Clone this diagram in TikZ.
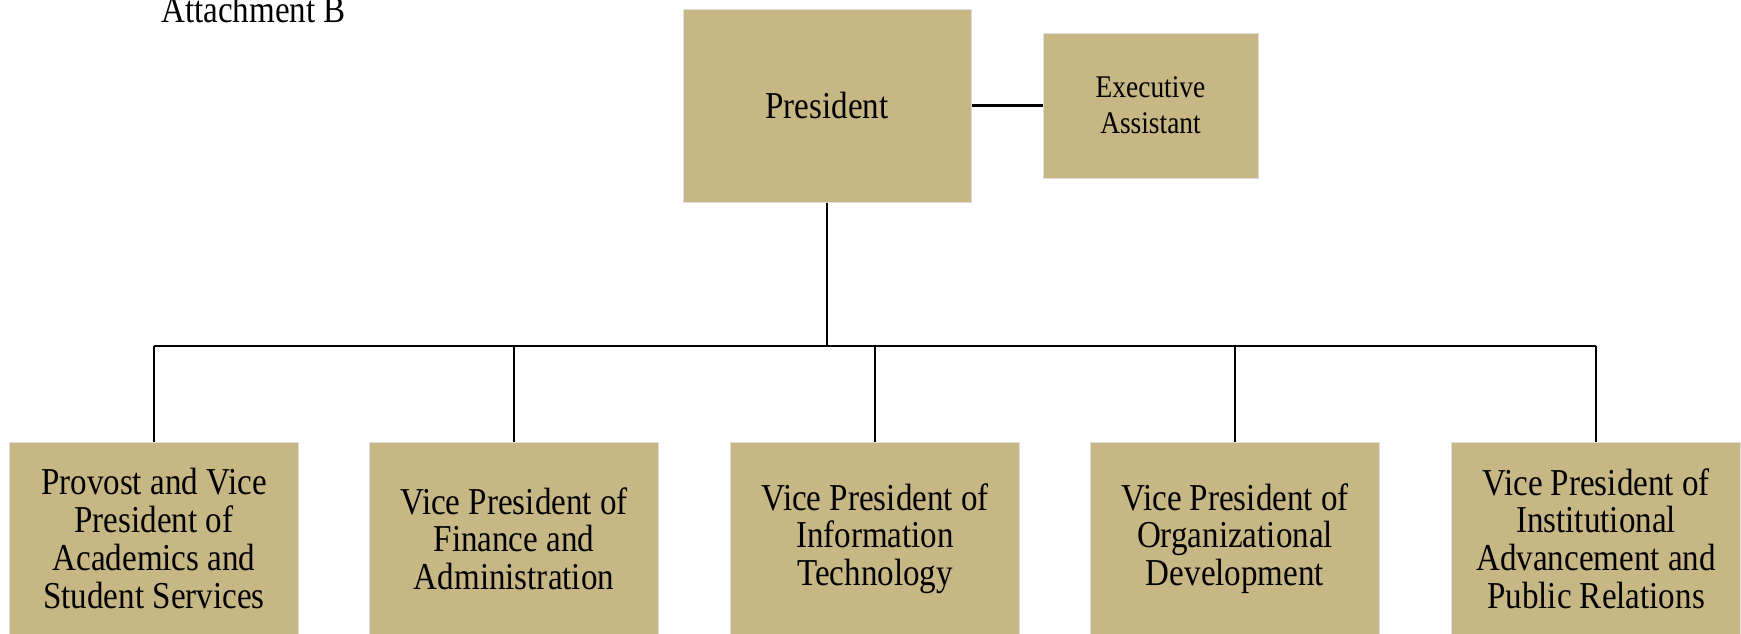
\documentclass[tikz,border=0pt]{standalone}
\usepackage{fontspec}
\setmainfont{Liberation Serif}[FakeStretch=0.87]
\definecolor{tan}{HTML}{C6B785}
\definecolor{edge}{HTML}{DCDCDC}
\begin{document}
\begin{tikzpicture}[x=1pt,y=-1pt,
  box/.style={draw=edge, line width=1pt, fill=tan, align=center, inner sep=0pt},
  big/.style={font=\fontsize{38}{37.7}\selectfont},
  small/.style={font=\fontsize{31.5}{35.6}\selectfont},
  link/.style={draw=black, line width=2.3pt}]
\useasboundingbox (0,0) rectangle (1741,633);
\clip (0,0) rectangle (1741,633);
\fill[white] (0,0) rectangle (1741,633);
\node[anchor=base west, big, inner sep=0pt] (att) at (161,22) {Attachment B};
\node[box, big, minimum width=288, minimum height=193] (pres) at (827,105.5) {President};
\node[box, small, minimum width=215, minimum height=145] (ea) at (1150.5,105.5) {Executive\\Assistant};
\node[box, big, minimum width=289, minimum height=193] (b1) at (154,538.5) {Provost and Vice\\President of\\Academics and\\Student Services};
\node[box, big, minimum width=289, minimum height=193] (b2) at (514,538.5) {Vice President of\\Finance and\\Administration};
\node[box, big, minimum width=289, minimum height=193] (b3) at (875,538.5) {Vice President of\\Information\\Technology};
\node[box, big, minimum width=289, minimum height=193] (b4) at (1235,538.5) {Vice President of\\Organizational\\Development};
\node[box, big, minimum width=289, minimum height=193] (b5) at (1596,538.5) {Vice President of\\Institutional\\Advancement and\\Public Relations};
\coordinate (bus) at (875,346);
\draw[link] (pres.east) -- (ea.west);
\draw[link] (pres.south) -- (pres.south |- bus);
\draw[link] (b1.north |- bus) -- (b5.north |- bus);
\foreach \b in {b1,b2,b3,b4,b5} \draw[link] (\b.north) -- (\b.north |- bus);
\end{tikzpicture}
\end{document}
